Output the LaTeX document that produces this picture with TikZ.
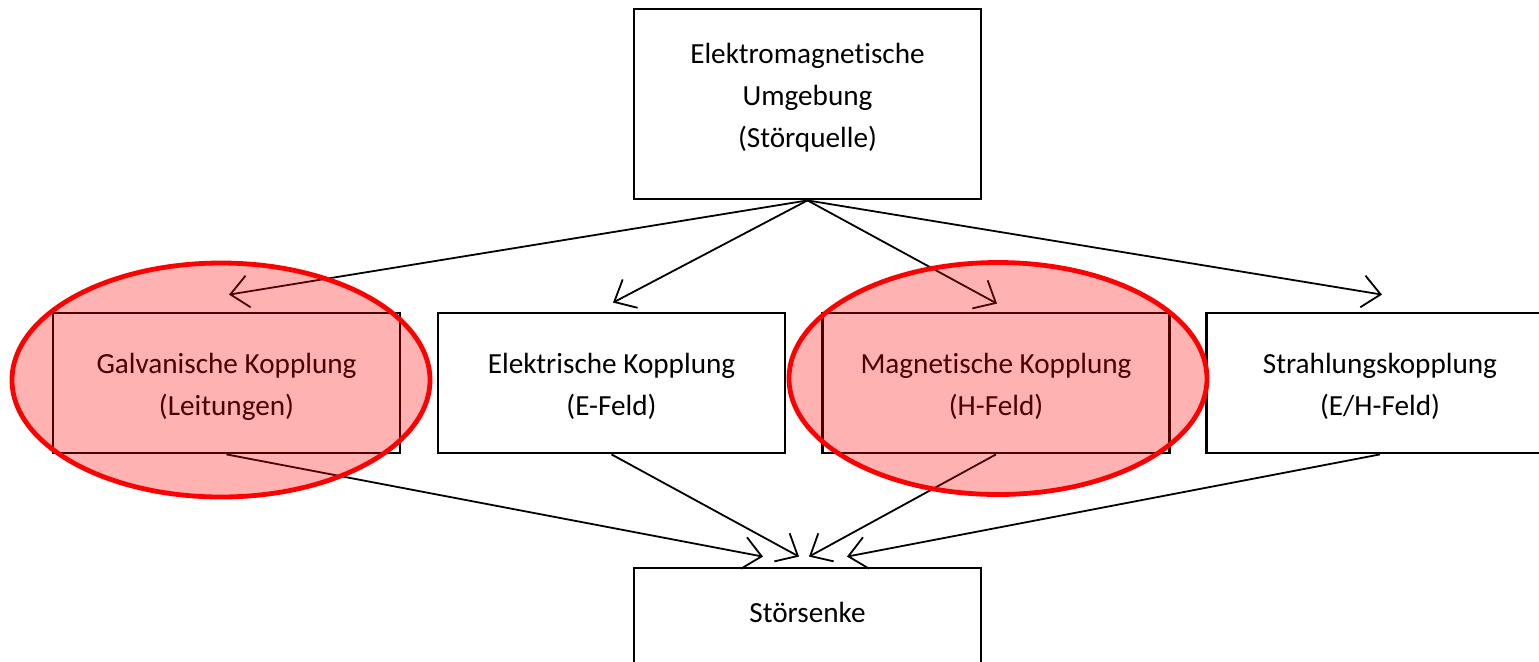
\documentclass[tikz,border=0pt]{standalone}
\usepackage{fontspec}
\setmainfont{Carlito}[Ligatures={NoCommon}]
\usetikzlibrary{arrows.meta}
\tikzset{
  boxnode/.style={draw=black, line width=1.4pt, minimum width=173.5pt, minimum height=70pt, inner sep=0pt},
  boxtext/.style={align=center, inner sep=0pt, font=\fontsize{14.6}{21}\selectfont},
  conn/.style={draw=black, line width=0.9pt, -{Straight Barb[length=9pt, width=16pt, line width=0.9pt]}},
  hilite/.style={draw=red, line width=2.4pt, fill=red, fill opacity=0.3},
}
\begin{document}
\begin{tikzpicture}[x=0.5pt, y=-0.5pt]
\useasboundingbox (0,0) rectangle (1539,661);
\clip (0,0) rectangle (1539,661);
\fill[white] (0,0) rectangle (1539,661);
\node[boxnode, minimum height=95pt] (top) at (807.5,104) {};
\node[boxnode] (m1) at (226.5,383) {};
\node[boxnode] (m2) at (611.5,383) {};
\node[boxnode] (m3) at (996,383) {};
\node[boxnode] (m4) at (1380,383) {};
\node[boxnode] (bot) at (807.5,638) {};
\node[boxtext] (topt) at ([yshift=3.25pt]top.center) {Elektromagnetische\\Umgebung\\(Störquelle)};
\node[boxtext] (m1t) at ([yshift=-1.75pt]m1.center) {Galvanische Kopplung\\(Leitungen)};
\node[boxtext] (m2t) at ([yshift=-1.75pt]m2.center) {Elektrische Kopplung\\(E-Feld)};
\node[boxtext] (m3t) at ([yshift=-1.75pt]m3.center) {Magnetische Kopplung\\(H-Feld)};
\node[boxtext] (m4t) at ([yshift=-1.75pt]m4.center) {Strahlungskopplung\\(E/H-Feld)};
\node[boxtext] (bott) at (807.5,612) {Störsenke};
\draw[conn] (top.south) -- ([shift={(1.25pt,8.5pt)}]m1.north);
\draw[conn] (top.south) -- ([shift={(0.75pt,4.5pt)}]m2.north);
\draw[conn] (top.south) -- ([shift={(0.5pt,4pt)}]m3.north);
\draw[conn] (top.south) -- ([shift={(1pt,8.5pt)}]m4.north);
\draw[conn] (m1.south) -- ([shift={(-22.25pt,5pt)}]bot.north);
\draw[conn] (m2.south) -- ([shift={(-4.25pt,5pt)}]bot.north);
\draw[conn] (m3.south) -- ([shift={(0.75pt,5pt)}]bot.north);
\draw[conn] (m4.south) -- ([shift={(19.75pt,5pt)}]bot.north);
\draw[hilite] (221,380) ellipse [x radius=104.5pt, y radius=58.5pt];
\draw[hilite] (998,378.5) ellipse [x radius=104.5pt, y radius=58pt];
\end{tikzpicture}
\end{document}
